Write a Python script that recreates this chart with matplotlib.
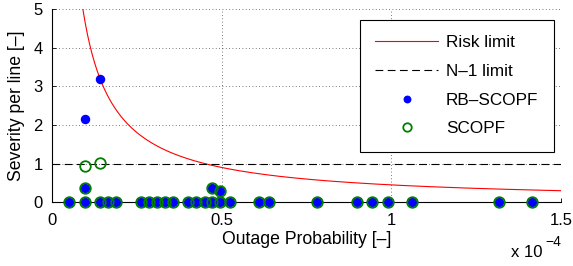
import numpy as np
import matplotlib
matplotlib.use("Agg")
import matplotlib.pyplot as plt

plt.rcParams['font.family'] = ['Liberation Sans', 'DejaVu Sans']

# outage probabilities in units of 1e-4
prob_zero = [0.050, 0.096, 0.140, 0.165, 0.189, 0.261, 0.285, 0.309, 0.331, 0.356,
             0.400, 0.425, 0.449, 0.472, 0.496, 0.523, 0.611, 0.638,
             0.780, 0.898, 0.944, 0.990, 1.062, 1.317, 1.415]
sev_zero = [0.0] * len(prob_zero)

# points above zero (both methods)
prob_low = [0.096, 0.472, 0.496]
sev_low = [0.38, 0.37, 0.30]

# RB-SCOPF only
prob_rb = [0.096, 0.140]
sev_rb = [2.15, 3.19]

# SCOPF only
prob_sc = [0.096, 0.140]
sev_sc = [0.94, 1.01]

risk_limit = 0.45   # severity * probability (1e-4)
n1_limit = 1.0

p_rb = prob_zero + prob_low + prob_rb
s_rb = sev_zero + sev_low + sev_rb
p_sc = prob_zero + prob_low + prob_sc
s_sc = sev_zero + sev_low + sev_sc

fig = plt.figure(figsize=(5.73, 2.66), dpi=100)
ax = fig.add_axes([0.0913, 0.2395, 0.8875, 0.7267])

pr = np.linspace(risk_limit / 5.0, 1.5, 400)
ax.plot(pr, risk_limit / pr, color='red', lw=0.8, label='Risk limit')
ax.axhline(n1_limit, color='black', lw=0.8, ls=(0, (7, 4)), label='N\u20131 limit')
ax.plot(p_rb, s_rb, 'o', color='blue', ms=5.8, mec='blue', clip_on=False, zorder=4,
        label='RB\u2013SCOPF')
ax.plot(p_sc, s_sc, 'o', mfc='none', mec='green', mew=1.3, ms=7.6, clip_on=False,
        zorder=5, label='SCOPF')

ax.set_xlim(0, 1.5)
ax.set_ylim(0, 5)
ax.set_xticks([0, 0.5, 1, 1.5])
ax.set_xticklabels(['0', '0.5', '1', '1.5'])
ax.set_yticks([0, 1, 2, 3, 4, 5])
ax.grid(True, color='black', ls=(0, (1, 3)), lw=0.6, alpha=0.7)
ax.set_axisbelow(True)
for s in ['top', 'right']:
    ax.spines[s].set_visible(False)
ax.spines['left'].set_linewidth(0.8)
ax.spines['bottom'].set_linewidth(0.8)
ax.tick_params(direction='in', length=3, width=0.6, labelsize=12)
ax.tick_params(axis='x', pad=8)
ax.tick_params(axis='y', pad=7)

ax.set_xlabel('Outage Probability [\u2013]', fontsize=12.7, labelpad=2)
ax.set_ylabel('Severity per line [\u2013]', fontsize=12.7, labelpad=6)

# MATLAB-style exponent below the x axis
fig.text(511 / 573, 9.3 / 266, 'x 10', fontsize=12, va='baseline', ha='left')
fig.text(545 / 573, 20 / 266, '\u22124', fontsize=10, va='baseline', ha='left')

leg = ax.legend(loc='upper right', bbox_to_anchor=(0.986, 0.943), fontsize=12.3,
                frameon=True, fancybox=False, edgecolor='black', framealpha=1,
                handlelength=3.7, handletextpad=0.45, borderpad=0.9, labelspacing=0.8,
                borderaxespad=0, markerscale=0.8)
leg.get_frame().set_linewidth(0.8)

fig.savefig('out.png', dpi=100)
